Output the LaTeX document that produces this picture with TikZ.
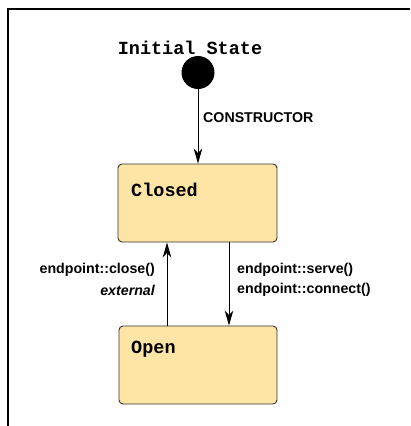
\documentclass[tikz,border=0pt]{standalone}
\usepackage{fontspec}
\setmainfont{Liberation Sans}
\newfontfamily\monob{Liberation Mono}
\usetikzlibrary{arrows.meta}
\definecolor{statefill}{HTML}{FEE5A5}
\definecolor{stateline}{HTML}{333333}
\tikzset{
  statebox/.style={draw=stateline, fill=statefill, rounded corners=4pt, line width=0.9pt, inner sep=0pt},
  statename/.style={anchor=west, inner sep=0pt, font=\monob\bfseries\fontsize{18.5}{20}\selectfont},
  trans/.style={line width=0.9pt, -{Stealth[length=15pt,width=8.5pt,inset=4.5pt]}},
  tlabel/.style={inner sep=0pt, font=\bfseries\fontsize{14.2}{16}\selectfont},
}
\begin{document}
\begin{tikzpicture}[x=1pt,y=-1pt]
\useasboundingbox (0,0) rectangle (410,426);
\draw[line width=1.2pt] (8,426) -- (8,9) -- (410,9);
\node[inner sep=0pt, font=\monob\bfseries\fontsize{18.5}{20}\selectfont] (title) at (190,48) {Initial State};
\node[circle, fill=black, minimum size=33pt, inner sep=0pt] (init) at (198,72.5) {};
\node[statebox, minimum width=159pt, minimum height=78pt] (closed) at (197.5,203) {};
\node[statebox, minimum width=158pt, minimum height=78pt] (open) at (198,365) {};
\node[statename] (closedname) at (131,190) {Closed};
\node[statename] (openname) at (131,349) {Open};
\coordinate (upx) at (167,0);
\coordinate (downx) at (229,0);
\draw[trans] (init) -- (init |- closed.north);
\draw[trans] (open.north -| upx) -- (closed.south -| upx);
\draw[trans] (closed.south -| downx) -- (open.north -| downx);
\node[tlabel, anchor=west] (lctor) at (203,118) {CONSTRUCTOR};
\node[tlabel, anchor=east] (lclose) at (155,270) {endpoint::close()};
\node[tlabel, anchor=east] (lext) at (155,290) {\itshape external};
\node[tlabel, anchor=west] (lserve) at (237,270) {endpoint::serve()};
\node[tlabel, anchor=west] (lconn) at (237,290) {endpoint::connect()};
\end{tikzpicture}
\end{document}
